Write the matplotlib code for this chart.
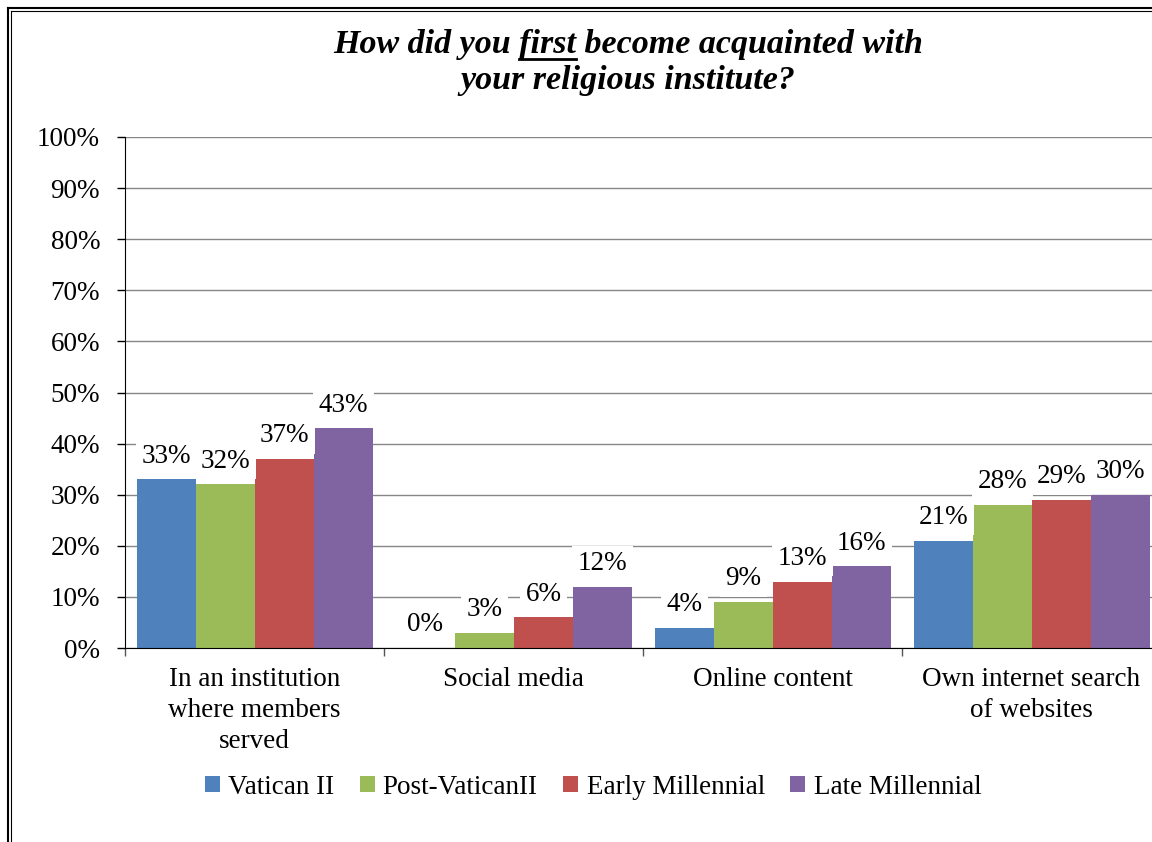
import numpy as np
import matplotlib
matplotlib.use("Agg")
import matplotlib.pyplot as plt
from matplotlib.patches import Patch
from matplotlib.lines import Line2D

# === DATA ===
categories = ["In an institution\nwhere members\nserved", "Social media",
              "Online content", "Own internet search\nof websites"]
series_names = ["Vatican II", "Post-VaticanII", "Early Millennial", "Late Millennial"]
vatican_ii = [33, 0, 4, 21]
post_vatican_ii = [32, 3, 9, 28]
early_millennial = [37, 6, 13, 29]
late_millennial = [43, 12, 16, 30]
colors = ["#4F81BD", "#9BBB59", "#C0504D", "#8064A2"]
yticks = np.arange(0, 101, 10)

FONT = "Liberation Serif"
FS = 19.5
W, H = 1152, 842

fig = plt.figure(figsize=(W / 100, H / 100), dpi=100)
fig.patch.set_facecolor("white")

# plot area (right side runs past the picture edge, as in the reference)
ax = fig.add_axes([125 / W, 1 - 648 / H, 1036 / W, 511 / H])
ax.set_xlim(0, 4)
ax.set_ylim(0, 100)

bar_w = 0.228
offset0 = 0.046
x = np.arange(len(categories))
all_series = [vatican_ii, post_vatican_ii, early_millennial, late_millennial]
for i, (vals, c) in enumerate(zip(all_series, colors)):
    xs = x + offset0 + bar_w * (i + 0.5)
    ax.bar(xs, vals, width=bar_w, color=c, edgecolor="none", zorder=2)
    for xi, v in zip(xs, vals):
        ax.annotate(f"{v}%", (xi, v), xytext=(0, 12), textcoords="offset points",
                    ha="center", va="baseline", fontsize=FS, family=FONT, zorder=4,
                    bbox=dict(boxstyle="square,pad=0.2", fc="white", ec="none"))

# axes styling
ax.set_yticks(yticks)
ax.set_yticklabels([f"{t}%" for t in yticks], family=FONT, fontsize=FS)
ax.yaxis.grid(True, color="#868686", lw=1.0, zorder=0)
ax.set_axisbelow(True)
ax.tick_params(axis="y", direction="out", length=6, width=1, pad=12, colors="black")
ax.set_xticks(np.arange(0, 5))
ax.set_xticklabels([])
ax.tick_params(axis="x", which="major", direction="out", length=6, width=1, color="#555555")
ax.set_xticks(x + 0.5, minor=True)
ax.set_xticklabels(categories, minor=True, family=FONT, fontsize=FS, linespacing=1.3, va="top")
ax.tick_params(axis="x", which="minor", length=0, pad=14)
for s in ["top", "right"]:
    ax.spines[s].set_visible(False)
ax.spines["left"].set_color("black")
ax.spines["bottom"].set_color("black")

# legend
handles = [Patch(facecolor=c, edgecolor="none") for c in colors]
fig.legend(handles, series_names, loc="center", bbox_to_anchor=(593 / W, 1 - 787 / H),
           ncol=4, frameon=False, prop=dict(family=FONT, size=FS),
           handlelength=0.55, handleheight=0.55, handletextpad=0.3, columnspacing=0.95)

# title
tfont = dict(family=FONT, size=24.5, weight="bold", style="italic")
tx = 628 / W
fig.text(tx, 1 - 53 / H, "How did you first become acquainted with", ha="center", va="baseline", **tfont)
fig.text(tx, 1 - 89 / H, "your religious institute?", ha="center", va="baseline", **tfont)

# underline "first"
fig.canvas.draw()
r = fig.canvas.get_renderer()
full = fig.text(0, 0, "How did you first become acquainted with", **tfont)
pre = fig.text(0, 0, "How did you ", **tfont)
word = fig.text(0, 0, "first", **tfont)
wf = full.get_window_extent(r).width
wp = pre.get_window_extent(r).width
ww = word.get_window_extent(r).width
for t in (full, pre, word):
    t.remove()
x0 = tx * W - wf / 2 + wp
uy = 1 - 59 / H
fig.add_artist(Line2D([x0 / W, (x0 + ww) / W], [uy, uy], color="black", lw=2))

# double frame on the left and top
fig.add_artist(Line2D([8 / W, 8 / W], [0, 1 - 8 / H], color="black", lw=1.5))
fig.add_artist(Line2D([11 / W, 11 / W], [0, 1 - 11 / H], color="black", lw=0.8))
fig.add_artist(Line2D([8 / W, 1], [1 - 8 / H, 1 - 8 / H], color="black", lw=1.5))
fig.add_artist(Line2D([11 / W, 1], [1 - 11 / H, 1 - 11 / H], color="black", lw=0.8))

fig.savefig("out.png", dpi=100)
